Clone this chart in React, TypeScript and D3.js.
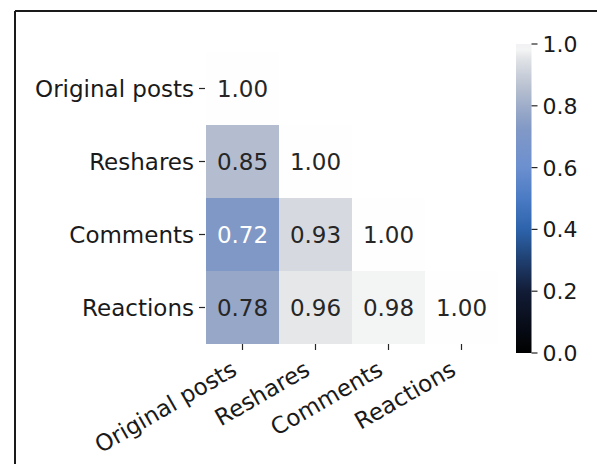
import React from "react";
import * as d3 from "d3";

const categories = ["Original posts", "Reshares", "Comments", "Reactions"];
// lower-triangle correlation values: [row, col, value]
const rowIdx = [0, 1, 1, 2, 2, 2, 3, 3, 3, 3];
const colIdx = [0, 0, 1, 0, 1, 2, 0, 1, 2, 3];
const values = [1.0, 0.85, 1.0, 0.72, 0.93, 1.0, 0.78, 0.96, 0.98, 1.0];
const cbarTicks = [0.0, 0.2, 0.4, 0.6, 0.8, 1.0];

const cmapStops = [0, 0.2, 0.4, 0.5, 0.6, 0.72, 0.78, 0.85, 0.93, 0.96, 0.98, 1.0];
const cmapColors = ["#000000", "#121c36", "#2d63ab", "#4a7bc4", "#6c8fcf", "#8098c6", "#96a7c8", "#b4bdcf", "#d6dae0", "#e5e7e9", "#f3f4f4", "#fefefe"];

const FONT = "DejaVu Sans";
const FS = 23;
const CFS = 22;

export default function App() {
  const W = 597, H = 464;
  const x = d3.scaleBand<string>().domain(categories).range([206, 498]);
  const y = d3.scaleBand<string>().domain(categories).range([52, 344]);
  const color = d3.scaleLinear<string>().domain(cmapStops).range(cmapColors);
  const cb = d3.scaleLinear().domain([0, 1]).range([353, 44]);
  const cbX = 516, cbW = 15.5;
  const gradStops = d3.range(0, 1.0001, 0.02);

  return (
    <svg width={W} height={H} style={{ position: "absolute", left: 0, top: 0, background: "#fff" }}
      fontFamily={FONT}>
      <defs>
        <linearGradient id="cbgrad" x1="0" y1="1" x2="0" y2="0">
          {gradStops.map((t) => (
            <stop key={t} offset={t} stopColor={t > 0.99 ? "#f2f2f4" : color(t)} />
          ))}
        </linearGradient>
      </defs>
      <rect x={0} y={0} width={W} height={H} fill="#fff" />
      {/* frame */}
      <line x1={15} y1={11} x2={W} y2={11} stroke="#1a1a1a" strokeWidth={2} />
      <line x1={15} y1={11} x2={15} y2={H} stroke="#1a1a1a" strokeWidth={2} />

      {/* cells */}
      {values.map((v, i) => {
        const r = categories[rowIdx[i]], c = categories[colIdx[i]];
        return (
          <rect key={"c" + i} x={x(c)} y={y(r)} width={x.bandwidth()} height={y.bandwidth()}
            fill={color(v)} />
        );
      })}
      {values.map((v, i) => {
        const r = categories[rowIdx[i]], c = categories[colIdx[i]];
        return (
          <text key={"t" + i} x={(x(c) as number) + x.bandwidth() / 2}
            y={(y(r) as number) + y.bandwidth() / 2} dy="0.36em" textAnchor="middle"
            fontSize={FS} fill={v < 0.75 ? "#ffffff" : "#262626"}>
            {v.toFixed(2)}
          </text>
        );
      })}

      {/* y axis */}
      {categories.map((cat) => {
        const cy = (y(cat) as number) + y.bandwidth() / 2;
        return (
          <g key={"y" + cat}>
            <line x1={199} x2={205} y1={cy} y2={cy} stroke="#262626" strokeWidth={1.2} />
            <text x={194} y={cy} dy="0.36em" textAnchor="end" fontSize={FS} fill="#1a1a1a">{cat}</text>
          </g>
        );
      })}

      {/* x axis */}
      {categories.map((cat) => {
        const cx = (x(cat) as number) + x.bandwidth() / 2;
        return (
          <g key={"x" + cat}>
            <line x1={cx} x2={cx} y1={344} y2={350} stroke="#262626" strokeWidth={1.2} />
            <text transform={`translate(${cx - 4},${374}) rotate(-30)`} textAnchor="end"
              fontSize={FS} fill="#1a1a1a">{cat}</text>
          </g>
        );
      })}

      {/* colorbar */}
      <rect x={cbX} y={cb(1)} width={cbW} height={cb(0) - cb(1)} fill="url(#cbgrad)" />
      {cbarTicks.map((t) => (
        <g key={"cb" + t}>
          <line x1={cbX + cbW} x2={cbX + cbW + 6} y1={cb(t)} y2={cb(t)} stroke="#262626" strokeWidth={1.2} />
          <text x={cbX + cbW + 11} y={cb(t)} dy="0.36em" fontSize={CFS} fill="#1a1a1a">{t.toFixed(1)}</text>
        </g>
      ))}
    </svg>
  );
}
